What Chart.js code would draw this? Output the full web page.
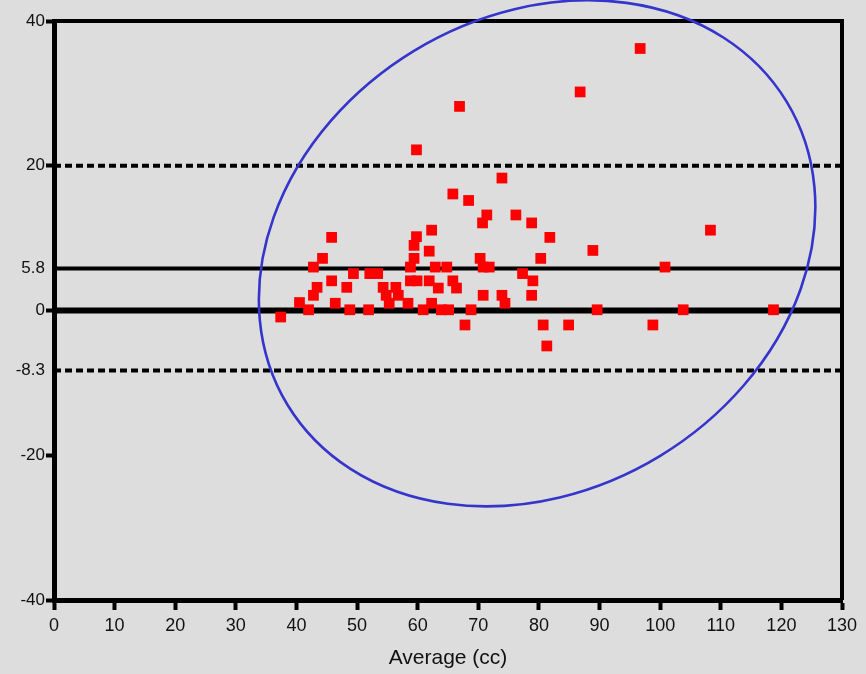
<!DOCTYPE html>
<html>
<head>
    <title>Bland-Altman plot</title>
    <script src="https://cdn.jsdelivr.net/npm/chart.js"></script>
    <style>
        html, body { margin: 0; padding: 0; background: #dddddd; }
        #wrap { width: 866px; height: 674px; }
    </style>
</head>
<body>
    <div id="wrap"><canvas id="baChart"></canvas></div>

    <script>
        // average of the two measurements (cc)
        const avgX = [
            37.4, 40.5, 42.0, 42.8, 43.4, 42.8, 44.3, 45.8, 45.8, 46.4,
            48.3, 48.8, 49.4, 51.9, 52.1, 53.4, 54.3, 54.8, 55.3, 56.4,
            56.8, 58.4, 58.8, 59.9, 58.8, 59.4, 59.4, 59.8, 59.8, 61.9,
            62.3, 61.9, 62.9, 64.8, 63.4, 62.3, 60.9, 63.9, 65.1, 65.8,
            66.4, 65.8, 66.9, 67.8, 68.8, 68.4, 70.3, 70.8, 71.8, 70.7,
            71.4, 73.9, 70.8, 73.9, 74.4, 76.2, 77.3, 78.8, 79.0, 78.8,
            80.3, 81.8, 80.7, 81.3, 84.9, 86.8, 88.9, 89.6, 96.7, 98.8,
            100.8, 103.8, 108.3, 118.7
        ];
        // difference between the two measurements
        const diffY = [
            -0.9, 1.1, 0.1, 2.1, 3.2, 6.0, 7.2, 10.1, 4.1, 1.0,
            3.2, 0.1, 5.1, 0.1, 5.1, 5.1, 3.2, 2.1, 1.0, 3.2,
            2.1, 1.0, 4.1, 4.1, 6.0, 7.2, 9.0, 10.2, 22.2, 8.2,
            11.1, 4.1, 6.0, 6.0, 3.1, 1.0, 0.1, 0.1, 0.1, 4.1,
            3.1, 16.1, 28.2, -2.0, 0.1, 15.2, 7.2, 6.0, 6.0, 12.1,
            13.2, 18.3, 2.1, 2.1, 1.0, 13.2, 5.1, 12.1, 4.1, 2.1,
            7.2, 10.1, -2.0, -4.9, -2.0, 30.2, 8.3, 0.1, 36.2, -2.0,
            6.0, 0.1, 11.1, 0.1
        ];

        const yTicks = [-40, -20, -8.3, 0, 5.8, 20, 40];
        const meanDiff = 5.8;
        const upperLimit = 20;
        const lowerLimit = -8.3;
        const xMin = 0, xMax = 130;

        // ellipse drawn around the cloud (centre in data units, radii in px)
        const ring = { cx: 79.7, cy: 7.9, rx: 292, ry: 237, angle: -31.3 };

        const hline = (y, width, dash) => ({
            type: 'line',
            data: [{ x: xMin, y: y }, { x: xMax, y: y }],
            borderColor: '#000',
            borderWidth: width,
            borderDash: dash,
            pointRadius: 0,
            order: 2
        });

        const decor = {
            id: 'decor',
            beforeDraw(chart) {
                const c = chart.ctx;
                c.save();
                c.fillStyle = '#dddddd';
                c.fillRect(0, 0, chart.width, chart.height);
                c.restore();
            },
            afterDatasetsDraw(chart) {
                const c = chart.ctx;
                const a = chart.chartArea;
                const sx = chart.scales.x, sy = chart.scales.y;
                c.save();
                c.strokeStyle = '#000';
                c.lineWidth = 4;
                c.beginPath();
                c.moveTo(a.left, a.top);
                c.lineTo(a.right, a.top);
                c.lineTo(a.right, a.bottom);
                c.stroke();

                c.strokeStyle = '#3535cc';
                c.lineWidth = 2.6;
                c.beginPath();
                c.ellipse(sx.getPixelForValue(ring.cx), sy.getPixelForValue(ring.cy),
                    ring.rx, ring.ry, ring.angle * Math.PI / 180, 0, Math.PI * 2);
                c.stroke();
                c.restore();
            }
        };

        const ctx = document.getElementById('baChart').getContext('2d');
        const chart = new Chart(ctx, {
            type: 'scatter',
            data: {
                datasets: [{
                    data: avgX.map((x, i) => ({ x: x, y: diffY[i] })),
                    backgroundColor: '#ff0000',
                    borderColor: '#ff0000',
                    borderWidth: 0,
                    pointStyle: 'rect',
                    pointRadius: 7.6,
                    order: 0
                },
                hline(upperLimit, 4, [7, 4]),
                hline(lowerLimit, 4, [7, 4]),
                hline(meanDiff, 4, []),
                hline(0, 6, [])]
            },
            options: {
                responsive: true,
                maintainAspectRatio: false,
                animation: false,
                layout: { padding: { top: 21, right: 24, left: 0, bottom: 0 } },
                scales: {
                    x: {
                        type: 'linear',
                        min: xMin,
                        max: xMax,
                        afterFit: s => { s.height = 74; },
                        ticks: {
                            stepSize: 10,
                            color: '#111',
                            padding: 5,
                            font: { family: 'Liberation Sans, Arial, sans-serif', size: 18 }
                        },
                        grid: {
                            drawOnChartArea: false,
                            tickColor: '#000',
                            tickWidth: 4,
                            tickLength: 10
                        },
                        border: { display: true, color: '#000', width: 5 },
                        title: {
                            display: true,
                            text: 'Average (cc)',
                            color: '#111',
                            padding: { top: 0, bottom: 3 },
                            font: { family: 'Liberation Sans, Arial, sans-serif', size: 21 }
                        }
                    },
                    y: {
                        type: 'linear',
                        min: -40,
                        max: 40,
                        afterFit: s => { s.width = 54; },
                        afterBuildTicks: s => { s.ticks = yTicks.map(v => ({ value: v })); },
                        ticks: {
                            color: '#111',
                            padding: 1,
                            callback: v => String(v),
                            font: { family: 'Liberation Sans, Arial, sans-serif', size: 17 }
                        },
                        grid: {
                            drawOnChartArea: false,
                            tickColor: c => (c.tick && (c.tick.value === meanDiff || c.tick.value === lowerLimit)) ? 'rgba(0,0,0,0)' : '#000',
                            tickWidth: 4,
                            tickLength: 8
                        },
                        border: { display: true, color: '#000', width: 5 }
                    }
                },
                plugins: {
                    legend: { display: false },
                    tooltip: { enabled: false }
                }
            },
            plugins: [decor]
        });
    </script>
</body>
</html>
